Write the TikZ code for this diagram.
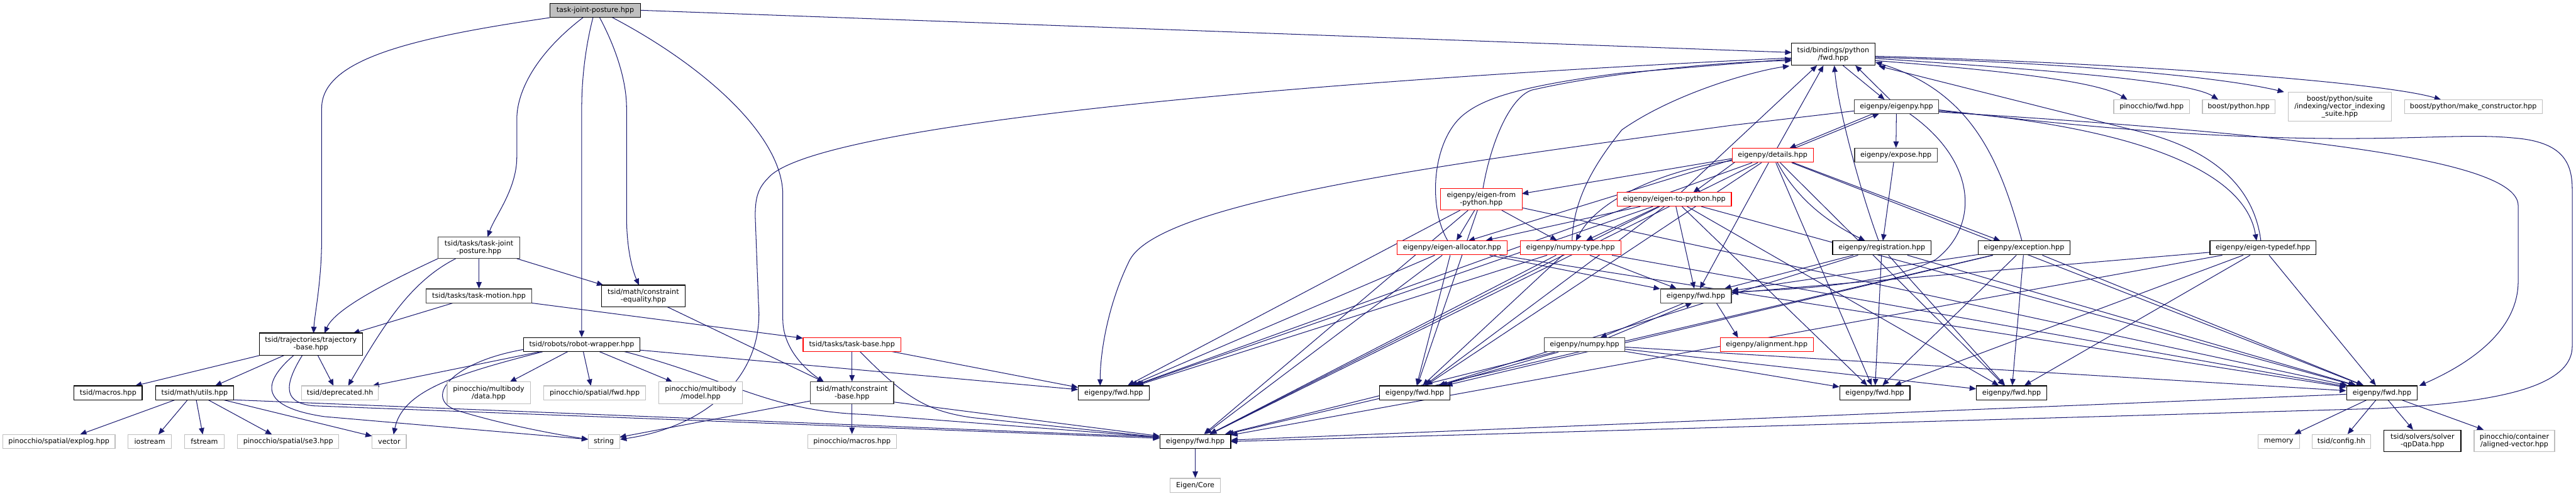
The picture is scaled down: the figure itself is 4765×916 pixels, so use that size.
\documentclass[tikz,border=0pt]{standalone}
\usepackage{fontspec}
\setmainfont{DejaVu Sans}
\usetikzlibrary{arrows.meta}
\pgfdeclarelayer{edges}
\pgfsetlayers{edges,main}
\definecolor{edgec}{HTML}{191970}
\definecolor{gfill}{HTML}{BFBFBF}
\definecolor{gline}{HTML}{BFBFBF}
\definecolor{dgray}{HTML}{404040}
\definecolor{rline}{HTML}{FF0000}
\tikzset{
 nb/.style={draw=black, line width=0.7pt, fill=white, inner sep=0pt, font=\fontsize{6.5pt}{7pt}\selectfont, align=center, minimum height=13pt},
 ng/.style={nb, draw=gline},
 nr/.style={nb, draw=rline},
 nd/.style={nb, draw=dgray},
 e/.style={draw=edgec, line width=0.6pt, -{Triangle[length=6pt,width=5pt]}},
}
\begin{document}
\begin{tikzpicture}[x=0.5pt,y=-0.5pt]
\useasboundingbox (0,0) rectangle (4765,916);
% nodes
\node[nb, fill=gfill, minimum width=83.5pt] (root) at (1101,19) {task-joint-posture.hpp};
\node[nb, minimum width=77.5pt, minimum height=20pt] (bpf) at (3391,100) {tsid/bindings/python\\/fwd.hpp};
\node[nd, minimum width=75.5pt, minimum height=20pt] (tjp) at (886,458) {tsid/tasks/task-joint\\-posture.hpp};
\node[nd, minimum width=97.5pt] (tm) at (886,547) {tsid/tasks/task-motion.hpp};
\node[nb, minimum width=77pt, minimum height=20pt] (ceq) at (1190,547) {tsid/math/constraint\\-equality.hpp};
\node[nb, minimum width=107.5pt] (rw) at (1076,637) {tsid/robots/robot-wrapper.hpp};
\node[nr, minimum width=90.5pt] (tb) at (1576,637) {tsid/tasks/task-base.hpp};
\node[nb, minimum width=95.5pt, minimum height=20.5pt] (traj) at (575,636) {tsid/trajectories/trajectory\\-base.hpp};
\node[nb, minimum width=63pt] (mac) at (200,726) {tsid/macros.hpp};
\node[nb, minimum width=72pt] (utl) at (360,726) {tsid/math/utils.hpp};
\node[ng, minimum width=71pt] (dep) at (629,726) {tsid/deprecated.hh};
\node[ng, minimum width=104pt] (explog) at (109,816) {pinocchio/spatial/explog.hpp};
\node[ng, minimum width=40pt] (ios) at (277,816) {iostream};
\node[ng, minimum width=36.5pt] (fst) at (378,816) {fstream};
\node[ng, minimum width=93.5pt] (se3) at (533,816) {pinocchio/spatial/se3.hpp};
\node[ng, minimum width=31.5pt] (vec) at (720,816) {vector};
\node[ng, minimum width=77pt, minimum height=20pt] (pdata) at (904,726) {pinocchio/multibody\\/data.hpp};
\node[ng, minimum width=94pt] (psfwd) at (1100,726) {pinocchio/spatial/fwd.hpp};
\node[ng, minimum width=77.5pt, minimum height=20pt] (pmodel) at (1296,726) {pinocchio/multibody\\/model.hpp};
\node[nd, minimum width=77pt, minimum height=20pt] (cb) at (1576,726) {tsid/math/constraint\\-base.hpp};
\node[ng, minimum width=29pt] (str) at (1117,816) {string};
\node[ng, minimum width=82pt] (pmac) at (1576,816) {pinocchio/macros.hpp};
\node[nb, minimum width=65.5pt] (fA) at (2060,726) {eigenpy/fwd.hpp};
\node[nb, minimum width=65.5pt] (fB) at (2211,816) {eigenpy/fwd.hpp};
\node[ng, minimum width=46.5pt] (core) at (2211,897) {Eigen/Core};
\node[nr, minimum width=75.5pt, minimum height=20pt] (efp) at (2740,368) {eigenpy/eigen-from\\-python.hpp};
\node[nr, minimum width=105.5pt] (etp) at (3097,368) {eigenpy/eigen-to-python.hpp};
\node[nr, minimum width=101.5pt] (ealloc) at (2686,458) {eigenpy/eigen-allocator.hpp};
\node[nr, minimum width=93pt] (npt) at (2905,458) {eigenpy/numpy-type.hpp};
\node[nd, minimum width=78pt] (epy) at (3508,197) {eigenpy/eigenpy.hpp};
\node[ng, minimum width=70pt] (pfwd) at (3980,197) {pinocchio/fwd.hpp};
\node[nr, minimum width=75pt] (det) at (3279,287) {eigenpy/details.hpp};
\node[nd, minimum width=76.5pt] (expo) at (3507,287) {eigenpy/expose.hpp};
\node[nb, minimum width=91pt] (reg) at (3481,458) {eigenpy/registration.hpp};
\node[nb, minimum width=85pt] (exc) at (3744,458) {eigenpy/exception.hpp};
\node[ng, minimum width=67pt] (bp) at (4141,197) {boost/python.hpp};
\node[ng, minimum width=95.5pt, minimum height=27pt] (vis) at (4328,197) {boost/python/suite\\/indexing/vector\_indexing\\\_suite.hpp};
\node[ng, minimum width=127.5pt] (mk) at (4575,197) {boost/python/make\_constructor.hpp};
\node[nb, minimum width=98pt] (etd) at (4186,458) {eigenpy/eigen-typedef.hpp};
\node[nb, minimum width=65pt] (fC) at (2617,726) {eigenpy/fwd.hpp};
\node[nd, minimum width=65.5pt] (fD) at (3137,547) {eigenpy/fwd.hpp};
\node[nd, minimum width=74.5pt] (npy) at (2931,637) {eigenpy/numpy.hpp};
\node[nr, minimum width=86pt] (aln) at (3268,637) {eigenpy/alignment.hpp};
\node[nb, minimum width=65pt] (fE) at (3468,726) {eigenpy/fwd.hpp};
\node[nb, minimum width=65pt] (fF) at (3721,726) {eigenpy/fwd.hpp};
\node[nb, minimum width=65.5pt] (fG) at (4406,726) {eigenpy/fwd.hpp};
\node[ng, minimum width=38.5pt] (mem) at (4215,816) {memory};
\node[ng, minimum width=54.5pt] (cfg) at (4331,816) {tsid/config.hh};
\node[nb, minimum width=71pt, minimum height=20pt] (qp) at (4481,815) {tsid/solvers/solver\\-qpData.hpp};
\node[ng, minimum width=74.5pt, minimum height=20pt] (avec) at (4651,815) {pinocchio/container\\/aligned-vector.hpp};
% edges
\begin{pgfonlayer}{edges}
% root
\draw[e] (root.south west) .. controls (760,70) and (595,110) .. (595,200) -- (595,440) .. controls (595,520) and (582,580) .. (580,616);
\draw[e] (1079,32) .. controls (990,100) and (956,170) .. (956,220) -- (956,290) .. controls (956,350) and (915,400) .. (902,438);
\draw[e] (1097,32) .. controls (1082,90) and (1076,150) .. (1076,200) -- (rw.north);
\draw[e] (1109,32) .. controls (1140,90) and (1159,150) .. (1159,200) -- (1159,400) .. controls (1159,460) and (1170,500) .. (1182,527);
\draw[e] (1132,32) .. controls (1300,120) and (1448,250) .. (1448,360) -- (1448,590) .. controls (1448,650) and (1500,690) .. (1524,706);
\draw[e] (root.east) -- (3314,97);
% bindings fwd
\draw[e] (3314,107) .. controls (2400,150) and (1500,230) .. (1420,330) .. controls (1400,350) and (1397,370) .. (1397,400) -- (1403,560) .. controls (1415,700) and (1300,790) .. (1147,812);
\draw[e] (3409,121) -- (3486,184);
\draw[e] (3469,112) .. controls (3700,130) and (3880,150) .. (3935,184);
\draw[e] (3469,108) .. controls (3800,130) and (4050,150) .. (4103,184);
\draw[e] (3469,106) .. controls (3800,115) and (4100,140) .. (4225,170);
\draw[e] (3469,104) .. controls (3900,115) and (4400,150) .. (4515,184);
% tsid tasks
\draw[e] (810,478) .. controls (720,520) and (620,570) .. (600,616);
\draw[e] (843,478) .. controls (760,520) and (710,600) .. (644,713);
\draw[e] (tjp) -- (tm);
\draw[e] (956,478) -- (1116,527);
\draw[e] (838,560) -- (653,616);
\draw[e] (983,560) -- (1485,625);
\draw[e] (1234,567) -- (1524,706);
\draw[e] (tb) -- (cb);
\draw[e] (1646,649) -- (1994,716);
\draw[e] (1591,650) .. controls (1670,730) and (1710,760) .. (1800,772) -- (2145,808);
\draw[e] (1499,741) -- (1146,808);
\draw[e] (cb) -- (pmac);
\draw[e] (1653,743) -- (2145,806);
% robot wrapper
\draw[e] (1050,650) -- (943,706);
\draw[e] (1079,650) -- (1093,713);
\draw[e] (1109,650) -- (1244,706);
\draw[e] (1004,649) -- (689,713);
\draw[e] (1004,650) .. controls (850,690) and (745,720) .. (728,803);
\draw[e] (968,646) .. controls (830,670) and (780,740) .. (850,760) .. controls (950,790) and (1050,806) .. (1088,812);
\draw[e] (1183,647) -- (1994,720);
\draw[e] (1152,649) .. controls (1350,700) and (1420,760) .. (1600,766) -- (2145,808);
% trajectory base
\draw[e] (480,657) -- (250,713);
\draw[e] (525,657) -- (398,713);
\draw[e] (588,657) -- (617,713);
\draw[e] (543,657) .. controls (470,720) and (500,755) .. (600,770) -- (1088,812);
\draw[e] (559,657) .. controls (520,720) and (530,745) .. (580,750) -- (2145,810);
% utils
\draw[e] (324,739) -- (148,803);
\draw[e] (347,739) -- (293,803);
\draw[e] (363,739) -- (375,803);
\draw[e] (385,739) -- (503,803);
\draw[e] (413,739) -- (688,806);
\draw[e] (432,739) -- (2145,808);
\draw[e] (fB) -- (core);
% eigenpy
\draw[e] (3496,184) -- (3432,121);
\draw[e] (3465,210) -- (3310,274);
\draw[e] (3319,274) -- (3476,210);
\draw[e] (epy) -- (expo);
\draw[e] (3503,299) -- (3483,445);
\draw[e] (3586,205) .. controls (3900,230) and (4150,300) .. (4174,445);
\draw[e] (3586,207) .. controls (4300,250) and (4658,300) .. (4658,380) -- (4658,520) .. controls (4658,620) and (4550,680) .. (4475,713);
\draw[e] (3586,203) .. controls (4300,290) and (4500,240) .. (4650,255) .. controls (4740,262) and (4758,300) .. (4758,350) -- (4758,640) .. controls (4758,720) and (4600,745) .. (4400,755) -- (2276,816);
\draw[e] (3430,205) -- (3200,232) .. controls (2700,300) and (2150,370) .. (2090,480) .. controls (2050,560) and (2035,650) .. (2035,713);
\draw[e] (3532,210) .. controls (3660,300) and (3660,420) .. (3580,480) .. controls (3480,530) and (3300,535) .. (3203,540);
% details
\draw[e] (3287,274) -- (3373,121);
\draw[e] (3287,299) .. controls (3330,380) and (3400,420) .. (3450,445);
\draw[e] (3313,299) -- (3700,445);
\draw[e] (3204,293) -- (2815,358);
\draw[e] (3210,299) -- (3132,356);
\draw[e] (3204,295) -- (2716,445);
\draw[e] (3204,297) .. controls (3100,310) and (2960,360) .. (2915,445);
% into bindings fwd
\draw[e] (2743,349) .. controls (2760,250) and (2800,170) .. (2840,165) .. controls (2950,140) and (3150,115) .. (3314,112);
\draw[e] (2678,445) .. controls (2640,380) and (2650,260) .. (2706,213) .. controls (2740,185) and (2800,160) .. (3000,135) -- (3314,109);
\draw[e] (2908,445) .. controls (2910,360) and (2960,290) .. (3000,240) .. controls (3100,170) and (3250,130) .. (3310,122);
\draw[e] (3109,356) -- (3361,121);
\draw[e] (3475,445) .. controls (3440,350) and (3400,200) .. (3393,121);
\draw[e] (3740,445) .. controls (3700,300) and (3650,170) .. (3469,115);
\draw[e] (4182,445) .. controls (4170,350) and (4100,280) .. (3965,245) -- (3475,122);
% eigen-from / to python
\draw[e] (efp) -- (ealloc);
\draw[e] (efp) -- (npt);
\draw[e] (etp) -- (ealloc);
\draw[e] (etp) -- (npt);
% numpy / fwd D
\draw[e] (3115,560) -- (2960,624);
\draw[e] (2975,624) -- (3130,560);
\draw[e] (3175,560) -- (3215,624);
% fwd boxes
\foreach \s/\t in {ealloc/fD, npt/fD, etp/fD, det/fD, reg/fD, exc/fD, etd/fD,
  efp/fA, ealloc/fA, npt/fA, det/fA, etp/fA,
  efp/fC, ealloc/fC, npt/fC, etp/fC, det/fC, npy/fC, reg/fC, exc/fC,
  det/fE, reg/fE, exc/fE, etp/fE, etd/fE, npy/fE,
  det/fF, reg/fF, exc/fF, etd/fF, npy/fF, etp/fF,
  det/fG, etd/fG, exc/fG, reg/fG, etp/fG, efp/fG, ealloc/fG, npt/fG, npy/fG,
  efp/fB, ealloc/fB, npt/fB, det/fB, etp/fB, npy/fB, exc/fB, etd/fB, fG/fB,
  fG/mem, fG/cfg, fG/qp, fG/avec}
  \draw[e] (\s) -- (\t);
\end{pgfonlayer}
\end{tikzpicture}
\end{document}
